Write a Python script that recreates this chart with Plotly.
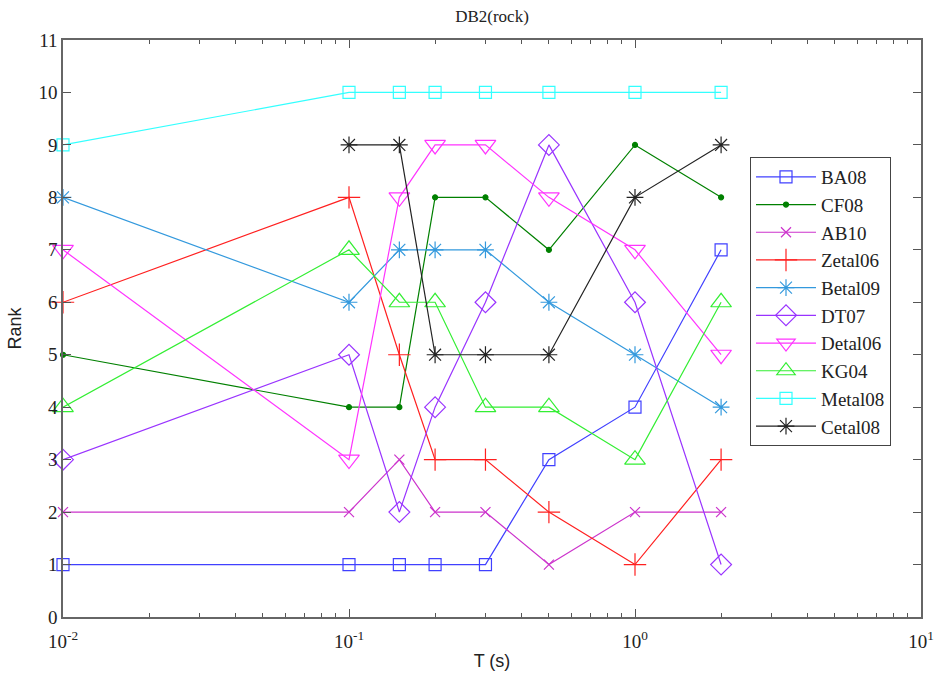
import plotly.graph_objects as go

T = [0.01, 0.1, 0.15, 0.2, 0.3, 0.5, 1, 2]
names = ["BA08", "CF08", "AB10", "Zetal06", "Betal09", "DT07", "Detal06", "KG04", "Metal08", "Cetal08"]
BA08 = [1, 1, 1, 1, 1, 3, 4, 7]
CF08 = [5, 4, 4, 8, 8, 7, 9, 8]
AB10 = [2, 2, 3, 2, 2, 1, 2, 2]
Zetal06 = [6, 8, 5, 3, 3, 2, 1, 3]
Betal09 = [8, 6, 7, 7, 7, 6, 5, 4]
DT07 = [3, 5, 2, 4, 6, 9, 6, 1]
Detal06 = [7, 3, 8, 9, 9, 8, 7, 5]
KG04 = [4, 7, 6, 6, 4, 4, 3, 6]
Metal08 = [9, 10, 10, 10, 10, 10, 10, 10]
Cetal08 = [None, 9, 9, 5, 5, 5, 8, 9]
series = [BA08, CF08, AB10, Zetal06, Betal09, DT07, Detal06, KG04, Metal08, Cetal08]

colors = ["#4040ff", "#008000", "#cc33cc", "#ff2020", "#3399dd", "#9933ff", "#ff33ff", "#33ee33", "#33ffff", "#222222"]
symbols = ["square-open", "circle", "x-thin-open", "cross-thin-open", "asterisk-open", "diamond-open",
           "triangle-down-open", "triangle-up-open", "square-open", "asterisk-open"]
sizes = [12, 5, 10, 16, 14, 16, 18, 18, 12, 14]

fig = go.Figure()
for n, ys, c, s, sz in zip(names, series, colors, symbols, sizes):
    fig.add_trace(go.Scatter(
        x=T, y=ys, name=n, mode="lines+markers", cliponaxis=False,
        line=dict(color=c, width=1.2),
        marker=dict(symbol=s, size=sz, color=c, line=dict(color=c, width=1.2)),
        connectgaps=False,
    ))

major = [0.01, 0.1, 1, 10]
minor = [m * 10 ** e for e in (-2, -1, 0) for m in range(2, 10)]
fig.update_layout(
    width=936, height=680,
    margin=dict(l=63, r=15, t=40, b=63, autoexpand=False),
    paper_bgcolor="white", plot_bgcolor="white",
    title=dict(text="DB2(rock)", x=492 / 936, xanchor="center", y=1 - 16 / 680, yanchor="middle",
               font=dict(family="Liberation Serif", size=17, color="#222")),
    font=dict(family="Liberation Serif", size=16, color="#222"),
    showlegend=True,
    legend=dict(x=(750 - 63) / (921 - 63), y=(617 - 157) / (617 - 40), xanchor="left", yanchor="top",
                bordercolor="#444", borderwidth=1, bgcolor="white",
                font=dict(family="Liberation Serif", size=19, color="#222"),
                tracegroupgap=0, itemwidth=60),
    xaxis=dict(type="log", range=[-2, 1], tickvals=major, automargin=False,
               ticktext=["10<sup>-2</sup>", "10<sup>-1</sup>", "10<sup>0</sup>", "10<sup>1</sup>"],
               ticks="inside", ticklen=8, tickcolor="#555", showgrid=False, zeroline=False,
               showline=True, linecolor="#666", linewidth=1.5, mirror="ticks",
               ticklabelstandoff=6,
               minor=dict(tickvals=minor, ticks="inside", ticklen=4, tickcolor="#555"),
               title=dict(text="T (s)", font=dict(family="Liberation Sans", size=18), standoff=4),
               tickfont=dict(family="Liberation Serif", size=19)),
    yaxis=dict(range=[0, 11], dtick=1, ticks="inside", ticklen=8, tickcolor="#555", automargin=False,
               showgrid=False, zeroline=False, showline=True, linecolor="#666", linewidth=1.5,
               mirror="ticks",
               title=dict(text="Rank", font=dict(family="Liberation Sans", size=18), standoff=12),
               tickfont=dict(family="Liberation Serif", size=19)),
)
fig.write_html("out.html")
